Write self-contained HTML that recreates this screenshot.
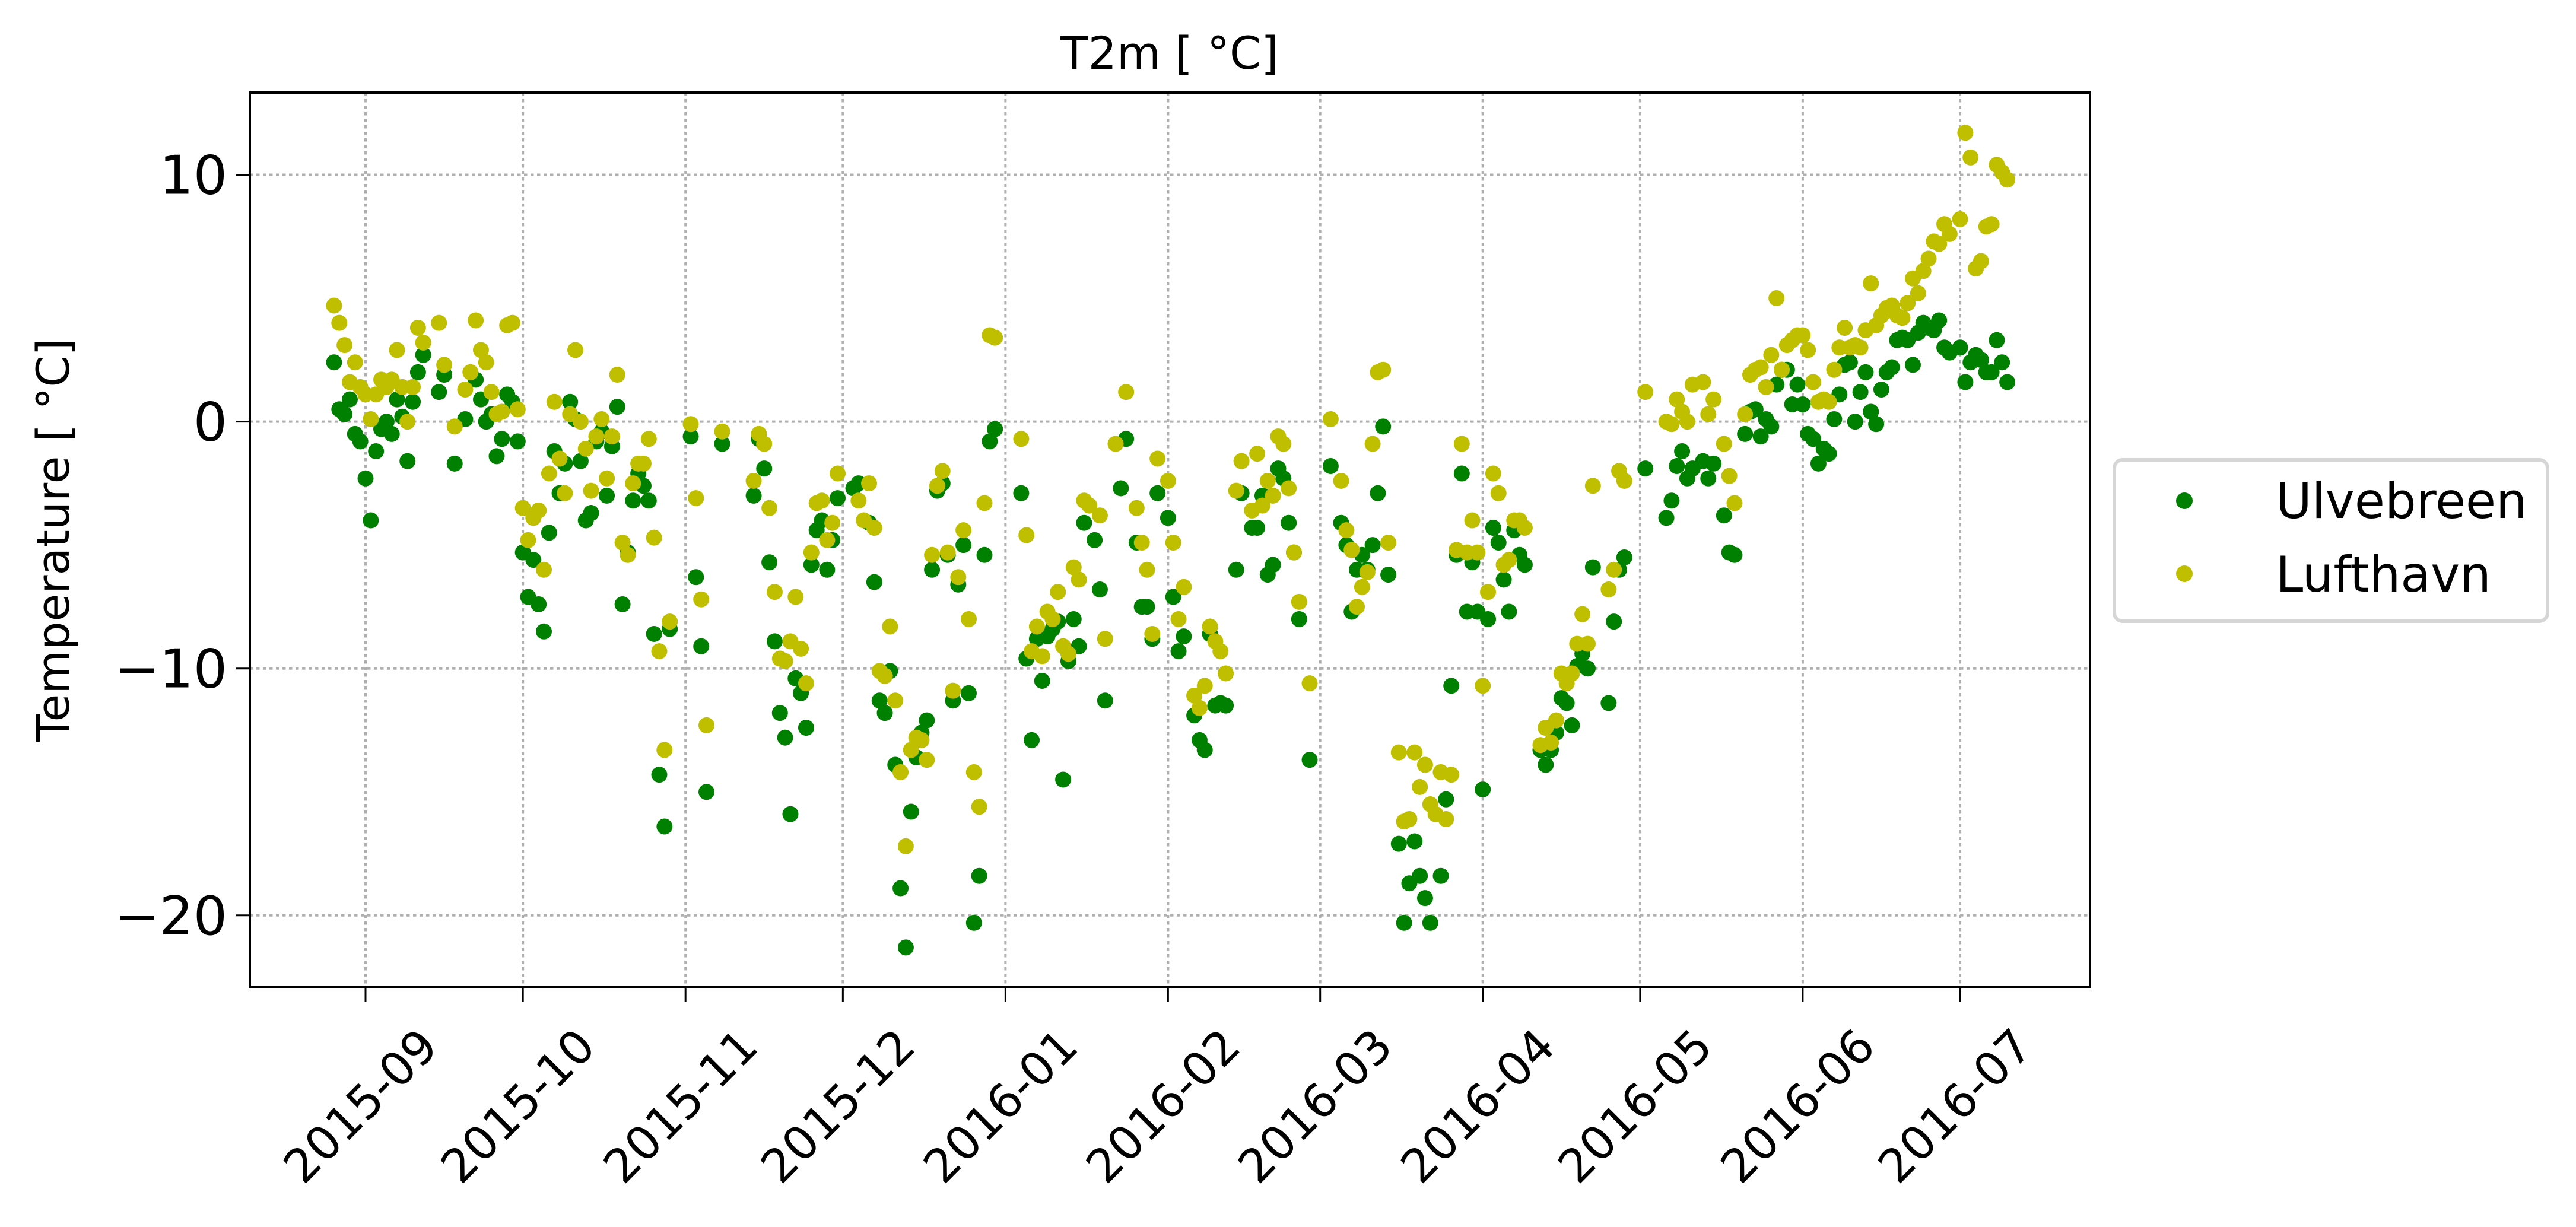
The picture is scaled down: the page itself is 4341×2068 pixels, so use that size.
<!DOCTYPE html>
<html><head><meta charset="utf-8"><title>T2m chart</title>
<style>html,body{margin:0;padding:0;background:#fff;}svg{display:block;}text{font-family:"DejaVu Sans","Liberation Sans",sans-serif;fill:#000;}</style>
</head><body>
<svg id="chart" width="4341" height="2068" viewBox="0 0 4341 2068" xmlns="http://www.w3.org/2000/svg">
<rect x="0" y="0" width="4341" height="2068" fill="#fff"/>
<g id="grid"></g>
<g id="marks"></g>
<rect x="421" y="156" width="3101" height="1508" fill="none" stroke="#000" stroke-width="4"/>
<g id="axes"></g>
<text x="1971" y="116" font-size="76" text-anchor="middle">T2m [ °C]</text>
<text transform="translate(116,910) rotate(-90)" font-size="76" text-anchor="middle">Temperature [ °C]</text>
<g>
<rect x="3563" y="775" width="730" height="272" rx="14" fill="#fff" stroke="#d6d6d6" stroke-width="6"/>
<ellipse cx="3681" cy="844" rx="14" ry="14" fill="#008000"/>
<text x="3835" y="873" font-size="83">Ulvebreen</text>
<ellipse cx="3681" cy="967" rx="14" ry="14" fill="#bfbf00"/>
<text x="3835" y="997" font-size="83">Lufthavn</text>
</g>
</svg>
<script>
// Days since 2015-09-01
const ulvDays = [-6,-5,-4,-3,-2,-1,0,1,2,3,4,5,6,7,8,9,10,11,14,15,17,19,21,22,23,24,25,26,27,28,29,30,31,32,33,34,35,36,37,38,39,40,41,42,43,44,45,46,47,48,49,50,51,52,53,54,55,56,57,58,62,63,64,65,68,74,75,76,77,78,79,80,81,82,83,84,85,86,87,88,89,90,93,94,96,97,98,99,100,101,102,103,104,105,106,107,108,109,110,111,112,113,114,115,116,117,118,119,120,125,126,127,128,129,130,131,132,133,134,135,136,137,139,140,141,144,145,147,148,149,150,151,153,154,155,156,158,159,160,161,162,163,164,166,167,169,170,171,172,173,174,175,176,177,178,180,184,186,187,188,189,190,191,192,193,194,195,197,198,199,200,201,202,203,205,206,207,208,209,210,211,212,213,214,215,216,217,218,219,220,221,224,225,226,227,228,229,230,231,232,233,234,237,238,239,240,244,248,249,250,251,252,253,255,256,257,259,260,261,263,264,265,266,267,268,269,270,271,272,273,274,275,276,277,278,279,280,281,282,283,284,285,286,287,288,289,290,291,292,293,294,295,296,297,298,299,300,301,302,304,305,306,307,308,309,310,311,312,313];
const ulvTemps = [2.4,0.5,0.3,0.9,-0.5,-0.8,-2.3,-4.0,-1.2,-0.3,0,-0.5,0.9,0.2,-1.6,0.8,2.0,2.7,1.2,1.9,-1.7,0.1,1.7,0.9,0,0.3,-1.4,-0.7,1.1,0.8,-0.8,-5.3,-7.1,-5.6,-7.4,-8.5,-4.5,-1.2,-2.9,-1.7,0.8,0.1,-1.6,-4.0,-3.7,-0.8,-0.4,-3.0,-1.0,0.6,-7.4,-5.3,-3.2,-2.1,-2.6,-3.2,-8.6,-14.3,-16.4,-8.4,-0.6,-6.3,-9.1,-15.0,-0.9,-3.0,-0.7,-1.9,-5.7,-8.9,-11.8,-12.8,-15.9,-10.4,-11.0,-12.4,-5.8,-4.4,-4.0,-6.0,-4.8,-3.1,-2.7,-2.5,-4.1,-6.5,-11.3,-11.8,-10.1,-13.9,-18.9,-21.3,-15.8,-13.6,-12.6,-12.1,-6.0,-2.8,-2.5,-5.4,-11.3,-6.6,-5.0,-11.0,-20.3,-18.4,-5.4,-0.8,-0.3,-2.9,-9.6,-12.9,-8.8,-10.5,-8.7,-8.4,-8.1,-14.5,-9.7,-8.0,-9.1,-4.1,-4.8,-6.8,-11.3,-2.7,-0.7,-4.9,-7.5,-7.5,-8.8,-2.9,-3.9,-7.1,-9.3,-8.7,-11.9,-12.9,-13.3,-8.6,-11.5,-11.4,-11.5,-6.0,-2.9,-4.3,-4.3,-3.0,-6.2,-5.8,-1.9,-2.3,-4.1,-5.3,-8.0,-13.7,-1.8,-4.1,-5.0,-7.7,-6.0,-5.4,-6.0,-5.0,-2.9,-0.2,-6.2,-17.1,-20.3,-18.7,-17.0,-18.4,-19.3,-20.3,-18.4,-15.3,-10.7,-5.4,-2.1,-7.7,-5.7,-7.7,-14.9,-8.0,-4.3,-4.9,-6.4,-7.7,-4.4,-5.4,-5.8,-13.3,-13.9,-13.3,-12.6,-11.2,-11.4,-12.3,-9.9,-9.4,-10.0,-5.9,-11.4,-8.1,-6.0,-5.5,-1.9,-3.9,-3.2,-1.8,-1.2,-2.3,-1.9,-1.6,-2.3,-1.7,-3.8,-5.3,-5.4,-0.5,0.4,0.5,-0.6,0.1,-0.2,1.5,2.1,2.1,0.7,1.5,0.7,-0.5,-0.7,-1.7,-1.1,-1.3,0.1,1.1,2.3,2.4,0,1.2,2.0,0.4,-0.1,1.3,2.0,2.2,3.3,3.4,3.3,2.3,3.6,4.0,3.8,3.7,4.1,3.0,2.8,3.0,1.6,2.4,2.7,2.5,2.0,2.0,3.3,2.4,1.6];
const lufDays = [-6,-5,-4,-3,-2,-1,0,1,2,3,4,5,6,7,8,9,10,11,14,15,17,19,20,21,22,23,24,25,26,27,28,29,30,31,32,33,34,35,36,37,38,39,40,41,42,43,44,45,46,47,48,49,50,51,52,53,54,55,56,57,58,62,63,64,65,68,74,75,76,77,78,79,80,81,82,83,84,85,86,87,88,89,90,94,95,96,97,98,99,100,101,102,103,104,105,106,107,108,109,110,111,112,113,114,115,116,117,118,119,120,125,126,127,128,129,130,131,132,133,134,135,136,137,138,140,141,143,145,147,148,149,150,151,153,154,155,156,158,159,160,161,162,163,164,166,167,169,170,171,172,173,174,175,176,177,178,180,184,186,187,188,189,190,191,192,193,194,195,197,198,199,200,201,202,203,204,205,206,207,208,209,210,211,212,213,214,215,216,217,218,219,220,221,224,225,226,227,228,229,230,231,232,233,234,237,238,239,240,244,248,249,250,251,252,253,255,256,257,259,260,261,263,264,265,266,267,268,269,270,271,272,273,274,275,276,277,278,279,280,281,282,283,284,285,286,287,288,289,290,291,292,293,294,295,296,297,298,299,300,301,302,304,305,306,307,308,309,310,311,312,313];
const lufTemps = [4.7,4.0,3.1,1.6,2.4,1.4,1.1,0.1,1.1,1.7,1.4,1.7,2.9,1.4,0,1.4,3.8,3.2,4.0,2.3,-0.2,1.3,2.0,4.1,2.9,2.4,1.2,0.3,0.4,3.9,4.0,0.5,-3.5,-4.8,-3.9,-3.6,-6.0,-2.1,0.8,-1.5,-2.9,0.3,2.9,0,-1.1,-2.8,-0.6,0.1,-2.3,-0.6,1.9,-4.9,-5.4,-2.5,-1.7,-1.7,-0.7,-4.7,-9.3,-13.3,-8.1,-0.1,-3.1,-7.2,-12.3,-0.4,-2.4,-0.5,-0.9,-3.5,-6.9,-9.6,-9.7,-8.9,-7.1,-9.2,-10.6,-5.3,-3.3,-3.2,-4.8,-4.1,-2.1,-3.2,-4.0,-2.5,-4.3,-10.1,-10.3,-8.3,-11.3,-14.2,-17.2,-13.3,-12.8,-12.9,-13.7,-5.4,-2.6,-2.0,-5.3,-10.9,-6.3,-4.4,-8.0,-14.2,-15.6,-3.3,3.5,3.4,-0.7,-4.6,-9.3,-8.3,-9.5,-7.7,-8.0,-6.9,-9.1,-9.4,-5.9,-6.4,-3.2,-3.4,-3.8,-8.8,-0.9,1.2,-3.5,-4.9,-6.0,-8.6,-1.5,-2.4,-4.9,-8.0,-6.7,-11.1,-11.6,-10.7,-8.3,-8.9,-9.3,-10.2,-2.8,-1.6,-3.6,-1.3,-3.4,-2.4,-3.0,-0.6,-0.9,-2.7,-5.3,-7.3,-10.6,0.1,-2.4,-4.4,-5.2,-7.5,-6.7,-6.1,-0.9,2.0,2.1,-4.9,-13.4,-16.2,-16.1,-13.4,-14.8,-13.9,-15.5,-15.9,-14.2,-16.1,-14.3,-5.2,-0.9,-5.3,-4.0,-5.3,-10.7,-6.9,-2.1,-2.9,-5.8,-5.6,-4.0,-4.0,-4.3,-13.1,-12.4,-13.0,-12.1,-10.2,-10.6,-10.2,-9.0,-7.8,-9.0,-2.6,-6.8,-6.0,-2.0,-2.4,1.2,0,-0.1,0.9,0.4,0,1.5,1.6,0.3,0.9,-0.9,-2.2,-3.3,0.3,1.9,2.1,2.2,1.4,2.7,5.0,2.1,3.1,3.3,3.5,3.5,2.9,1.6,0.8,0.9,0.8,2.1,3.0,3.8,3.0,3.1,3.0,3.7,5.6,3.9,4.3,4.6,4.7,4.3,4.2,4.8,5.8,5.2,6.1,6.6,7.3,7.2,8.0,7.6,8.2,11.7,10.7,6.2,6.5,7.9,8.0,10.4,10.1,9.8];
const yTicks = [10, 0, -10, -20];
const yTickLabels = ["10", "0", "\u221210", "\u221220"];
const xTickDays = [0, 30, 61, 91, 122, 153, 182, 213, 243, 274, 304];
const xTickLabels = ["2015-09","2015-10","2015-11","2015-12","2016-01","2016-02","2016-03","2016-04","2016-05","2016-06","2016-07"];

const NS = "http://www.w3.org/2000/svg";
const AX = {left: 421, right: 3522, top: 156, bottom: 1664};
function xScale(d) { return 616 + d * 8.839; }
function yScale(v) { return 710.6 - v * 41.61; }
function mk(tag, attrs, parent) {
  const e = document.createElementNS(NS, tag);
  for (const k in attrs) e.setAttribute(k, attrs[k]);
  parent.appendChild(e);
  return e;
}
const grid = document.getElementById('grid');
const axes = document.getElementById('axes');
const marks = document.getElementById('marks');

yTicks.forEach((v, i) => {
  const y = yScale(v);
  const g = mk('line', {x1: AX.left, x2: AX.right, y1: y, y2: y, stroke: '#b0b0b0', 'stroke-width': 4, 'stroke-dasharray': '5.5 5.5'}, grid);
  
  
  const t = mk('line', {x1: AX.left - 24, x2: AX.left, y1: y, y2: y, stroke: '#000', 'stroke-width': 3}, axes);
  
  
  const l = mk('text', {x: AX.left - 38, y: y + 32, 'font-size': 90, 'text-anchor': 'end'}, axes);
  l.textContent = yTickLabels[i];
  
  
});
xTickDays.forEach((d, i) => {
  const x = xScale(d);
  const g = mk('line', {x1: x, x2: x, y1: AX.top, y2: AX.bottom, stroke: '#b0b0b0', 'stroke-width': 4, 'stroke-dasharray': '5.5 5.5'}, grid);
  
  
  const t = mk('line', {x1: x, x2: x, y1: AX.bottom, y2: AX.bottom + 24, stroke: '#000', 'stroke-width': 3}, axes);
  
  
  const lx = x + 126, ly = 1768;
  const l = mk('text', {x: lx, y: ly, 'font-size': 78, 'text-anchor': 'end', transform: 'rotate(-45 ' + lx + ' ' + ly + ')'}, axes);
  l.textContent = xTickLabels[i];
  
  
});

function drawSeries(days, temps, color, name) {
  const g = mk('g', {}, marks);
  
  
  days.forEach((d, i) => {
    const c = mk('circle', {cx: xScale(d), cy: yScale(temps[i]), r: 13.5, fill: color}, g);
    
    
  });
}
drawSeries(ulvDays, ulvTemps, '#008000', 'ulvebreen');
drawSeries(lufDays, lufTemps, '#bfbf00', 'lufthavn');
</script>
</body></html>
